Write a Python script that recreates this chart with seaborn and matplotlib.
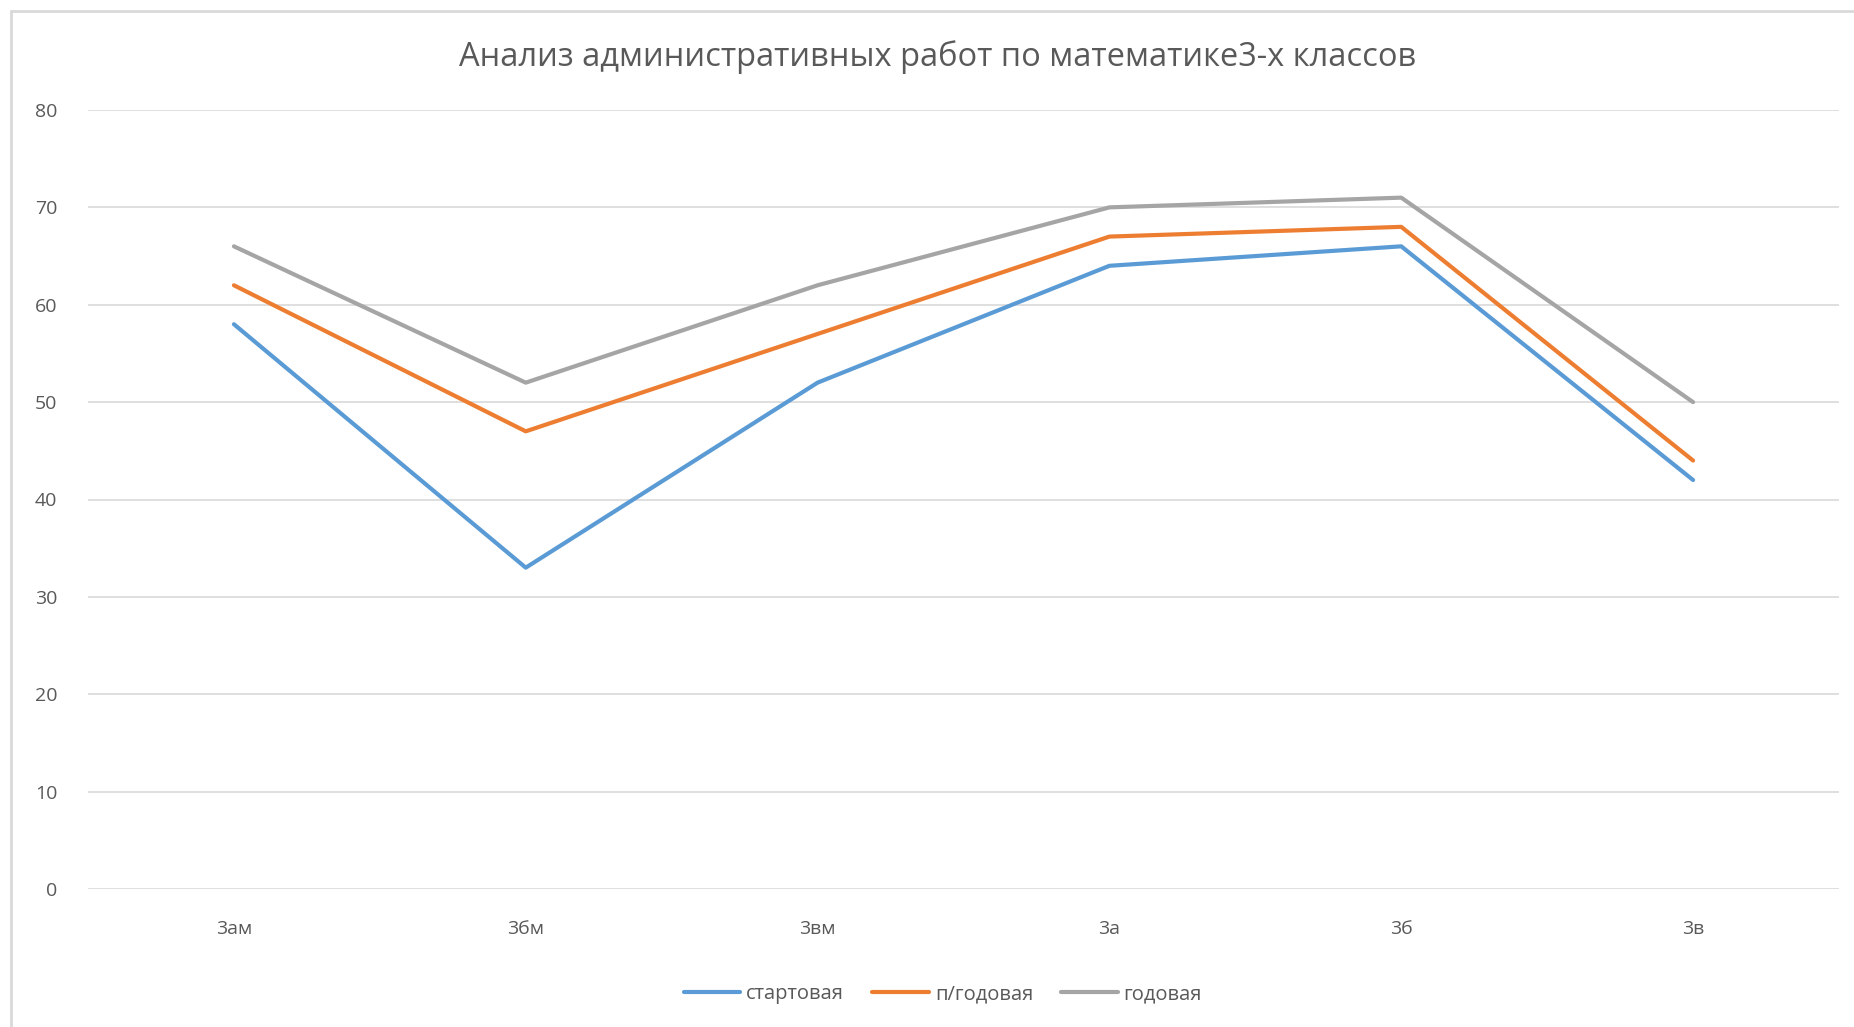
import matplotlib
matplotlib.use("Agg")
import matplotlib.pyplot as plt
import pandas as pd
import seaborn as sns
from matplotlib.patches import Rectangle

# classes and results
classes = ["3ам", "3бм", "3вм", "3а", "3б", "3в"]
start = [58, 33, 52, 64, 66, 42]
half_year = [62, 47, 57, 67, 68, 44]
year = [66, 52, 62, 70, 71, 50]
series_names = ["стартовая", "п/годовая", "годовая"]
colors = ["#5B9BD5", "#ED7D31", "#A5A5A5"]
title = "Анализ административных работ по математике3-х классов"

# long form table for seaborn
df = pd.concat([
    pd.DataFrame({"класс": classes, "балл": vals, "работа": name})
    for name, vals in zip(series_names, [start, half_year, year])
], ignore_index=True)

sns.set_style("white")
plt.rcParams["font.family"] = ["Open Sans", "DejaVu Sans"]

fig = plt.figure(figsize=(18.54, 10.27), dpi=100)
ax = fig.add_axes([88 / 1854, 1 - 889 / 1027, (1839 - 88) / 1854, (889 - 110) / 1027])

sns.lineplot(data=df, x="класс", y="балл", hue="работа", palette=colors,
             sort=False, linewidth=3, ax=ax, legend=True)

ax.set_xlim(-0.5, len(classes) - 0.5)
ax.set_ylim(0, 80)
ax.set_yticks(range(0, 81, 10))
ax.grid(axis="y", color="#D9D9D9", linewidth=1.2)
ax.grid(axis="x", visible=False)
for s in ax.spines.values():
    s.set_visible(False)
ax.tick_params(axis="both", length=0, labelsize=14, colors="#595959")
ax.tick_params(axis="y", pad=22)
ax.tick_params(axis="x", pad=22)
ax.set_xlabel("")
ax.set_ylabel("")

fig.suptitle(title, x=0.506, y=1 - 57 / 1027, va="center", fontsize=23.5,
             color="#595959")

handles, labels = ax.get_legend_handles_labels()
ax.legend(handles, labels, loc="center", bbox_to_anchor=(943 / 1854, 1 - 994 / 1027),
          bbox_transform=fig.transFigure, ncol=3, frameon=False, fontsize=14.5,
          labelcolor="#595959", handlelength=2.8, handletextpad=0.3,
          columnspacing=1.4)

# chart area border
fig.patches.append(Rectangle((11 / 1854, -0.05), 1.1, 1 - 11 / 1027 + 0.05,
                             transform=fig.transFigure, fill=False,
                             edgecolor="#D9D9D9", linewidth=2))

fig.savefig("out.png", dpi=100, facecolor="white")
